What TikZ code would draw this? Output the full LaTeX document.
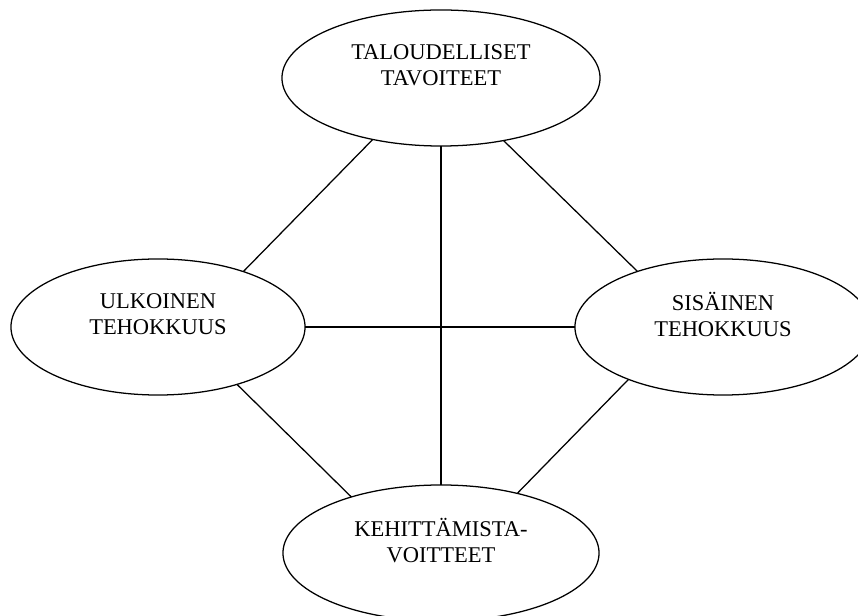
\documentclass[tikz,border=0pt]{standalone}
\usepackage{fontspec}
\setmainfont{Liberation Serif}
\usetikzlibrary{shapes.geometric}

\begin{document}
\begin{tikzpicture}[x=0.025cm,y=-0.025cm,
  oval/.style={ellipse,draw,line width=0.9pt,outer sep=0pt,minimum height=3.4cm,
    align=center,font=\fontsize{16}{18.4}\selectfont},
  link/.style={line width=0.9pt}]
\useasboundingbox (0,0) rectangle (858,616);
\clip (0,0) rectangle (858,616);
\node[oval,minimum width=7.95cm] (talous) at (441,78) {TALOUDELLISET\\TAVOITEET\\\mbox{}};
\node[oval,minimum width=7.35cm] (ulkoinen) at (158,327) {ULKOINEN\\TEHOKKUUS\\\mbox{}};
\node[oval,minimum width=7.4cm] (sisainen) at (723,327) {SISÄINEN\\TEHOKKUUS\\\mbox{}};
\node[oval,minimum width=7.9cm] (kehitys) at (441,553) {KEHITTÄMISTA-\\VOITTEET\\\mbox{}};
\draw[link] (talous.222) -- (ulkoinen.33);
\draw[link] (talous.315) -- (sisainen.147);
\draw[link] (ulkoinen.324) -- (kehitys.148);
\draw[link] (sisainen.209) -- (kehitys.38);
\draw[link] (talous.south) -- (kehitys.north);
\draw[link] (ulkoinen.east) -- (sisainen.west);
\end{tikzpicture}
\end{document}
